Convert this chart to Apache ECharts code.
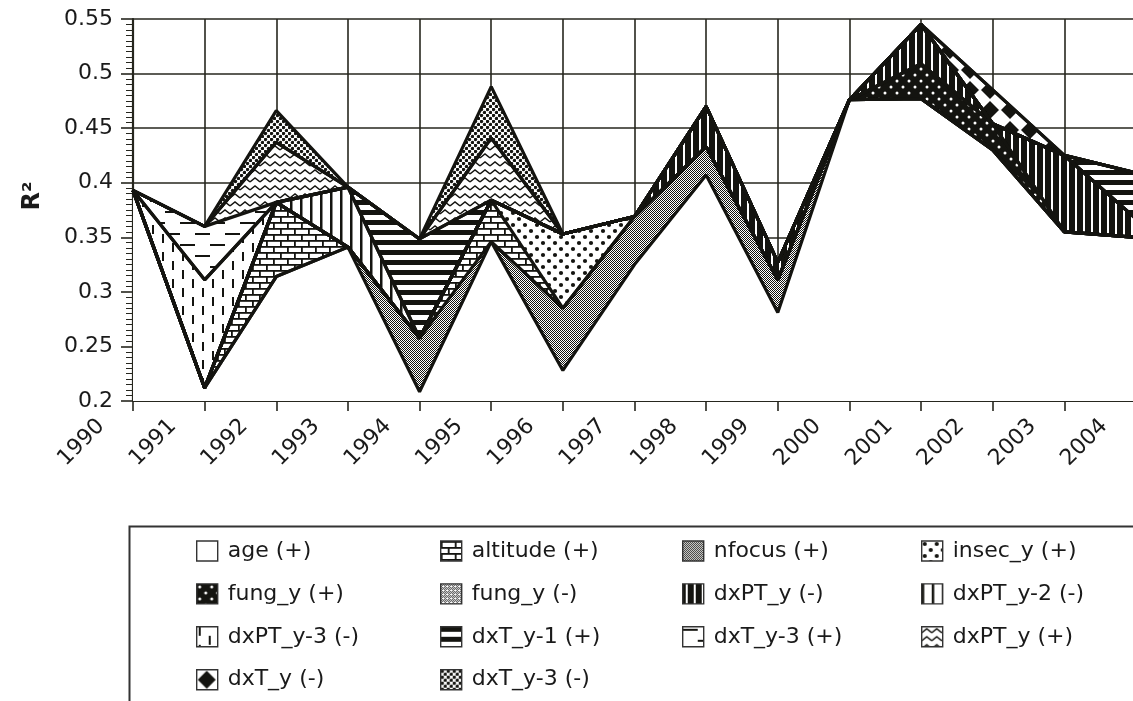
<!DOCTYPE html>
<html><head><meta charset="utf-8">
<script src="https://cdn.jsdelivr.net/npm/echarts@6/dist/echarts.min.js"></script>
<style>html,body{margin:0;padding:0;background:#fff}#c{width:1133px;height:701px}</style>
</head><body><div id="c"></div>
<script>
// ---------------- data ----------------
const years = ['1990','1991','1992','1993','1994','1995','1996','1997','1998','1999','2000','2001','2002','2003','2004'];
const yTicks = [0.2, 0.25, 0.3, 0.35, 0.4, 0.45, 0.5, 0.55];
// R2 increments (stacked), one value per year
const age      = [0.393, 0.212, 0.314, 0.341, 0.2085, 0.346, 0.228, 0.325, 0.407, 0.281, 0.476, 0.477, 0.430, 0.355, 0.350];
const nfocus   = [0, 0, 0, 0, 0.049, 0, 0.057, 0.044, 0.026, 0.030, 0, 0, 0, 0, 0];
const altitude = [0, 0, 0.068, 0, 0, 0.038, 0, 0, 0, 0, 0, 0, 0, 0, 0];
const insecYp  = [0, 0, 0, 0, 0, 0, 0.068, 0, 0, 0, 0, 0, 0, 0, 0];
const fungYp   = [0, 0, 0, 0, 0, 0, 0, 0, 0, 0, 0, 0.032, 0.024, 0, 0];
const fungYm   = [0, 0, 0, 0, 0, 0, 0, 0, 0, 0, 0, 0, 0, 0, 0];
const dxPTYm   = [0, 0, 0, 0, 0, 0, 0, 0, 0.037, 0.016, 0, 0.036, 0, 0.070, 0.017];
const dxPTY2m  = [0, 0, 0, 0.055, 0, 0, 0, 0, 0, 0, 0, 0, 0, 0, 0];
const dxPTY3m  = [0, 0.099, 0, 0, 0, 0, 0, 0, 0, 0, 0, 0, 0, 0, 0];
const dxTY1p   = [0, 0, 0, 0, 0.091, 0, 0, 0, 0, 0, 0, 0, 0, 0, 0.042];
const dxTY3p   = [0, 0.049, 0, 0, 0, 0, 0, 0, 0, 0, 0, 0, 0, 0, 0];
const dxPTYp   = [0, 0, 0.055, 0, 0, 0.057, 0, 0, 0, 0, 0, 0, 0, 0, 0];
const dxTYm    = [0, 0, 0, 0, 0, 0, 0, 0, 0, 0, 0, 0, 0.031, 0, 0];
const dxTY3m   = [0, 0, 0.029, 0, 0, 0.047, 0, 0, 0, 0, 0, 0, 0, 0, 0];

// ---------------- patterns (style only) ----------------
const INK = '#141410';
function pat(w, h, bg, draw) {
  const c = document.createElement('canvas');
  c.width = w; c.height = h;
  const g = c.getContext('2d');
  g.fillStyle = bg; g.fillRect(0, 0, w, h);
  g.fillStyle = INK; g.strokeStyle = INK;
  draw(g, w, h);
  return { image: c, repeat: 'repeat' };
}
const P = {
  white: '#ffffff',
  brick: pat(14, 12, '#fff', g => {
    g.fillRect(0, 0, 14, 1.8); g.fillRect(0, 6, 14, 1.8);
    g.fillRect(0, 0, 1.8, 6); g.fillRect(7, 6, 1.8, 6);
  }),
  grey: pat(2, 2, '#fff', g => { g.fillRect(0, 0, 1, 1); g.fillRect(1, 1, 1, 1); }),
  dotsOnWhite: pat(12, 12, '#fff', g => {
    g.beginPath(); g.arc(3, 3, 2.1, 0, 7); g.fill();
    g.beginPath(); g.arc(9, 9, 2.1, 0, 7); g.fill();
  }),
  whiteDotsOnBlack: pat(12, 12, INK, g => {
    g.fillStyle = '#fff';
    g.beginPath(); g.arc(3, 3, 1.5, 0, 7); g.fill();
    g.beginPath(); g.arc(9, 9, 1.5, 0, 7); g.fill();
  }),
  fineChecker: pat(4, 4, '#fff', g => {
    g.fillStyle = '#333'; g.fillRect(0, 0, 1, 1); g.fillRect(2, 0, 1, 1); g.fillRect(1, 1, 1, 1);
    g.fillRect(3, 1, 1, 1); g.fillRect(0, 2, 1, 1); g.fillRect(1, 3, 1, 1); g.fillRect(3, 3, 1, 1);
  }),
  whiteVLinesOnBlack: pat(8, 4, INK, g => { g.fillStyle = '#fff'; g.fillRect(3, 0, 2, 4); }),
  vLines: pat(10, 4, '#fff', g => { g.fillRect(0, 0, 2.5, 4); }),
  vDashes: pat(20, 18, '#fff', g => { g.fillRect(2, 0, 2, 9); g.fillRect(12, 9, 2, 9); }),
  hThick: pat(4, 10, '#fff', g => { g.fillRect(0, 0, 4, 5); }),
  hDashes: pat(30, 22, '#fff', g => { g.fillRect(0, 2, 15, 2); g.fillRect(15, 13, 15, 2); }),
  wavy: pat(10, 8, '#fff', g => {
    g.lineWidth = 1.4; g.beginPath(); g.moveTo(0, 6); g.lineTo(5, 2); g.lineTo(10, 6); g.stroke();
  }),
  diamonds: pat(20, 20, '#fff', g => {
    g.beginPath(); g.moveTo(10, 1); g.lineTo(19, 10); g.lineTo(10, 19); g.lineTo(1, 10); g.closePath(); g.fill();
  }),
  dotChecker: pat(6, 6, '#fff', g => {
    g.beginPath(); g.arc(1.5, 1.5, 1.7, 0, 7); g.fill();
    g.beginPath(); g.arc(4.5, 4.5, 1.7, 0, 7); g.fill();
  })
};

const seriesDefs = [
  ['age (+)', age, P.white],
  ['nfocus (+)', nfocus, P.grey],
  ['altitude (+)', altitude, P.brick],
  ['insec_y (+)', insecYp, P.dotsOnWhite],
  ['fung_y (+)', fungYp, P.whiteDotsOnBlack],
  ['fung_y (-)', fungYm, P.fineChecker],
  ['dxPT_y (-)', dxPTYm, P.whiteVLinesOnBlack],
  ['dxPT_y-2 (-)', dxPTY2m, P.vLines],
  ['dxPT_y-3 (-)', dxPTY3m, P.vDashes],
  ['dxT_y-1 (+)', dxTY1p, P.hThick],
  ['dxT_y-3 (+)', dxTY3p, P.hDashes],
  ['dxPT_y (+)', dxPTYp, P.wavy],
  ['dxT_y (-)', dxTYm, P.diamonds],
  ['dxT_y-3 (-)', dxTY3m, P.dotChecker]
];

const FONT = 'DejaVu Sans';
const legendCols = [
  ['age (+)', 'fung_y (+)', 'dxPT_y-3 (-)', 'dxT_y (-)'],
  ['altitude (+)', 'fung_y (-)', 'dxT_y-1 (+)', 'dxT_y-3 (-)'],
  ['nfocus (+)', 'dxPT_y (-)', 'dxT_y-3 (+)'],
  ['insec_y (+)', 'dxPT_y-2 (-)', 'dxPT_y (+)']
];
const legendLeft = [196, 440, 682, 921];

const chart = echarts.init(document.getElementById('c'), null, { renderer: 'canvas' });
chart.setOption({
  animation: false,
  backgroundColor: '#fff',
  grid: { left: 133, top: 19, right: -3, bottom: 300, containLabel: false, outerBoundsMode: 'none' },
  xAxis: {
    type: 'category', data: years, boundaryGap: false,
    axisLine: { lineStyle: { color: '#26261e', width: 2.2 } },
    axisTick: { show: true, length: 10, interval: 0, lineStyle: { color: '#26261e', width: 1.6 } },
    axisLabel: { interval: 0, rotate: 45, margin: -10, padding: [0, 45, 0, 0],
      fontFamily: FONT, fontSize: 22, color: '#1a1a1a' },
    splitLine: { show: true, interval: 0, lineStyle: { color: '#26261e', width: 1.6 } }
  },
  yAxis: {
    type: 'value', min: 0.2, max: 0.55, interval: 0.05,
    name: 'R²', nameLocation: 'middle', nameGap: 88,
    nameTextStyle: { fontFamily: FONT, fontSize: 24, fontWeight: 'bold', color: '#1a1a1a', padding: [0, 0, 0, 28] },
    axisLine: { show: true, lineStyle: { color: '#26261e', width: 2.2 } },
    axisTick: { show: true, length: 12, lineStyle: { color: '#26261e', width: 1.6 } },
    minorTick: { show: true, splitNumber: 10, length: 7, lineStyle: { color: '#26261e', width: 1 } },
    axisLabel: { margin: 20, fontFamily: FONT, fontSize: 22, color: '#1a1a1a',
      formatter: v => String(+v.toFixed(2)) },
    splitLine: { show: true, lineStyle: { color: '#26261e', width: 1.6 } }
  },
  legend: legendCols.map((names, i) => ({
    data: names, orient: 'vertical', left: legendLeft[i], top: 540, padding: 0,
    itemWidth: 21, itemHeight: 20, itemGap: 20.9, icon: 'rect', selectedMode: false,
    itemStyle: { borderColor: '#333', borderWidth: 1.4 },
    textStyle: { fontFamily: FONT, fontSize: 22, color: '#1a1a1a', lineHeight: 20, padding: [0, 0, 0, 5] }
  })),
  graphic: [{
    type: 'rect', left: 127, top: 524, silent: true,
    shape: { width: 1100, height: 300 },
    style: { fill: 'none', stroke: '#333', lineWidth: 2 }
  }],
  series: seriesDefs.map(([name, vals, fill]) => ({
    name, type: 'line', stack: 'r2', data: vals, symbol: 'none',
    lineStyle: { color: INK, width: 3.2 },
    areaStyle: { color: fill, opacity: 1 },
    itemStyle: { color: fill, borderColor: '#333', borderWidth: 1.4 },
    emphasis: { disabled: true }, silent: true
  }))
});
</script></body></html>
